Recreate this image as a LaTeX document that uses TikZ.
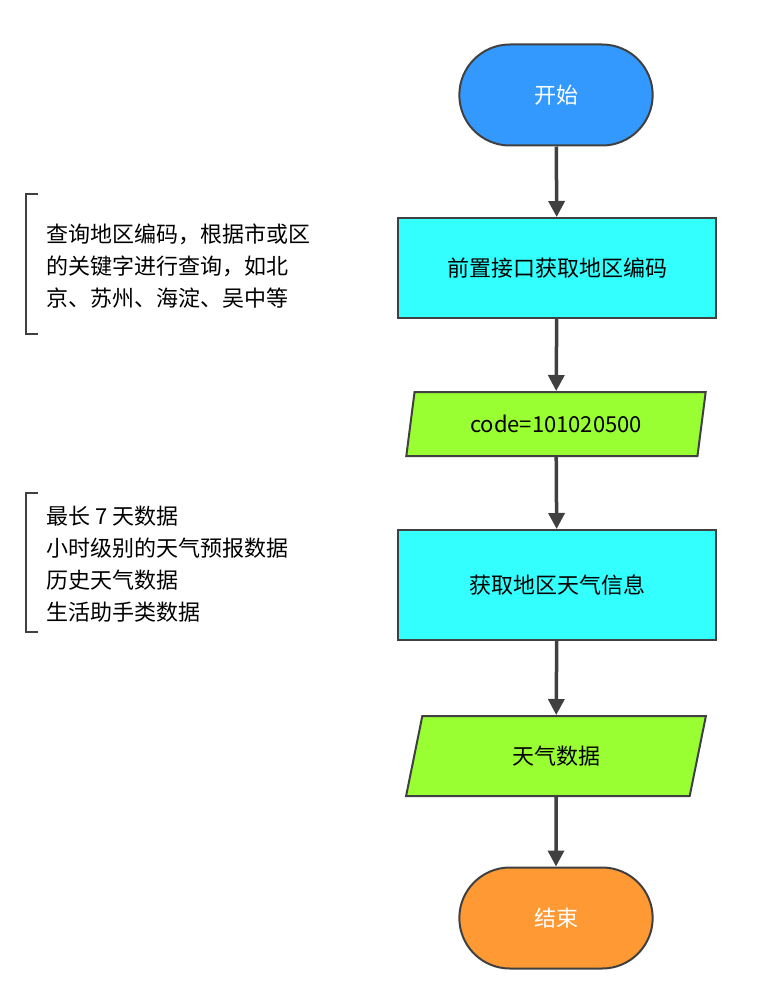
\documentclass[tikz,border=0pt]{standalone}
\usepackage{fontspec}
\setmainfont{Noto Sans CJK SC}
\usetikzlibrary{shapes.geometric,shapes.misc,arrows.meta}
\definecolor{startblue}{HTML}{3399FF}
\definecolor{boxcyan}{HTML}{33FFFF}
\definecolor{datagreen}{HTML}{99FF33}
\definecolor{endorange}{HTML}{FF9933}
\definecolor{linegray}{HTML}{404040}
\tikzset{
  term/.style={rounded rectangle, draw=linegray, line width=2pt, minimum width=200pt, minimum height=101pt, text=white, font=\fontsize{22}{26}\selectfont},
  proc/.style={rectangle, draw=linegray, line width=2pt, fill=boxcyan, minimum width=318pt, font=\fontsize{22}{26}\selectfont},
  data/.style={trapezium, trapezium left angle=78, trapezium right angle=102, draw=linegray, line width=2pt, fill=datagreen, minimum width=300pt, trapezium stretches=true, font=\fontsize{22}{26}\selectfont},
  flow/.style={-{Triangle[length=16pt,width=16pt]}, draw=linegray, line width=3.5pt},
  note/.style={align=left, anchor=west, font=\fontsize{22}{32}\selectfont, inner sep=0pt}
}
\begin{document}
\begin{tikzpicture}[x=1pt,y=-1pt]
\useasboundingbox (0,0) rectangle (762,984);

% flow chart
\node[term, fill=startblue] (start) at (556,95) {开始};
\node[proc, minimum height=100pt] (query) at (557,268) {前置接口获取地区编码};
\node[data, minimum height=64pt] (code) at (556,424) {code=101020500};
\node[proc, minimum height=110pt] (weather) at (557,585) {获取地区天气信息};
\node[data, minimum height=80pt] (wdata) at (556,756) {天气数据};
\node[term, fill=endorange] (end) at (556,918) {结束};

\draw[flow] (start) -- (query);
\draw[flow] (query) -- (code);
\draw[flow] (code) -- (weather);
\draw[flow] (weather) -- (wdata);
\draw[flow] (wdata) -- (end);

% notes
\node[note] (note1) at (46,266) {查询地区编码，根据市或区\\的关键字进行查询，如北\\京、苏州、海淀、吴中等};
\draw[linegray, line width=2pt] (38,194) -- (26,194) -- (26,334) -- (38,334);
\node[note] (note2) at (46,564) {最长 7 天数据\\小时级别的天气预报数据\\历史天气数据\\生活助手类数据};
\draw[linegray, line width=2pt] (38,493) -- (26,493) -- (26,632) -- (38,632);
\end{tikzpicture}
\end{document}
